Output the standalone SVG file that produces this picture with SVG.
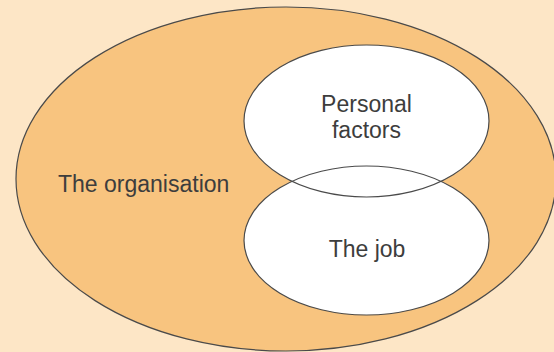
<svg xmlns="http://www.w3.org/2000/svg" width="554" height="352" viewBox="0 0 554 352">
<style>
.lbl{font-family:"Liberation Sans",Arial,sans-serif;font-size:23px;fill:#3d3d3d;}
.ol{fill:none;stroke:#4a4a4a;stroke-width:1.2;}
.org{fill:#f8c47f;stroke:#4a4a4a;stroke-width:1.2;}
.w{fill:#ffffff;}
</style>
<rect x="0" y="0" width="554" height="352" fill="#fde6c6"/>
<g id="organisation">
<ellipse class="org" cx="286" cy="179" rx="270" ry="172"/>
<text class="lbl" x="58" y="192">The organisation</text>
</g>
<g id="personal-factors">
<ellipse class="w" cx="366.5" cy="121" rx="122.5" ry="76"/>
<text class="lbl" x="366.5" y="112" text-anchor="middle">Personal</text>
<text class="lbl" x="366.5" y="138" text-anchor="middle">factors</text>
</g>
<g id="the-job">
<ellipse class="w" cx="366.5" cy="240.5" rx="122.5" ry="74.5"/>
<text class="lbl" x="367" y="256.5" text-anchor="middle">The job</text>
</g>
<g id="outlines">
<ellipse class="ol" cx="366.5" cy="121" rx="122.5" ry="76"/>
<ellipse class="ol" cx="366.5" cy="240.5" rx="122.5" ry="74.5"/>
</g>
</svg>
